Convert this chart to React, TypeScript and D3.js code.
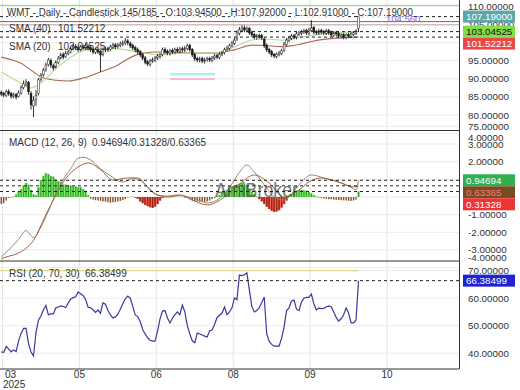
import React from "react";
import * as d3 from "d3";

// ---- price bars (one per trading day) ----
const opens = [
  86.2, 85.9, 85.4, 86.5, 85.9, 85.1, 85.6, 85.1, 86.0, 87.6,
  88.4, 89.0, 86.0, 82.5, 84.3, 86.0, 89.9, 91.1, 92.6, 93.9,
  95.0, 93.6, 93.2, 94.5, 95.8, 96.7, 96.1, 97.0, 97.5, 98.4,
  99.0, 98.6, 98.1, 98.9, 98.4, 99.0, 98.6, 98.1, 97.3, 98.1,
  97.5, 96.8, 98.0, 98.3, 98.1, 98.7, 99.4, 98.9, 99.2, 99.5,
  99.9, 100.5, 99.8, 99.2, 98.6, 98.1, 97.5, 96.7, 95.8, 94.7,
  94.0, 95.0, 95.1, 95.8, 96.2, 96.7, 98.1, 97.5, 97.0, 97.8,
  97.3, 98.1, 97.6, 98.3, 97.9, 98.4, 99.2, 98.1, 96.7, 95.6,
  95.1, 95.6, 94.8, 95.3, 95.6, 95.1, 95.8, 96.4, 95.9, 96.9,
  97.2, 98.1, 98.4, 99.2, 99.8, 101.0, 102.6, 103.4, 104.1, 103.4,
  103.9, 102.8, 102.2, 101.4, 101.9, 101.9, 101.0, 99.3, 98.1, 97.5,
  96.7, 96.2, 96.7, 97.0, 97.9, 99.5, 100.6, 101.2, 101.9, 101.4,
  102.3, 102.6, 103.0, 103.3, 102.6, 103.4, 104.2, 103.0, 102.6, 103.3,
  103.0, 102.6, 103.3, 102.8, 102.0, 102.8, 102.5, 101.7, 102.2, 101.4,
  102.2, 101.7, 102.3, 102.6, 103.945,
];
const highs = [
  86.8, 86.4, 87.0, 87.1, 86.4, 86.2, 86.1, 86.8, 88.2, 89.5,
  89.9, 89.4, 86.6, 85.2, 86.9, 90.2, 91.6, 93.0, 94.5, 95.8,
  95.6, 94.2, 95.1, 96.3, 97.2, 97.3, 97.7, 98.0, 99.1, 99.7,
  99.6, 99.2, 99.4, 99.5, 99.8, 99.5, 99.1, 98.6, 98.6, 98.7,
  98.0, 98.6, 98.9, 98.9, 99.4, 99.9, 99.9, 99.9, 100.3, 100.6,
  101.3, 101.0, 100.3, 99.7, 99.1, 98.6, 98.0, 97.2, 96.3, 95.2,
  95.5, 95.9, 96.3, 96.9, 97.2, 98.6, 98.7, 98.1, 98.3, 98.4,
  98.6, 98.7, 98.8, 98.9, 99.1, 99.7, 99.7, 98.5, 97.2, 96.1,
  96.1, 96.1, 95.8, 96.1, 96.1, 96.3, 96.9, 96.9, 97.4, 97.7,
  98.6, 99.1, 99.7, 100.5, 101.4, 103.4, 104.3, 104.8, 104.7, 104.5,
  104.3, 103.3, 102.7, 102.4, 102.5, 102.4, 101.4, 99.8, 98.6, 98.0,
  97.2, 97.3, 97.7, 98.3, 100.2, 101.3, 101.9, 102.4, 102.4, 103.0,
  103.3, 103.5, 103.8, 103.8, 104.1, 106.2, 104.6, 103.5, 103.8, 103.8,
  103.5, 103.8, 103.8, 103.3, 103.2, 103.3, 102.9, 102.6, 102.7, 102.6,
  102.7, 102.9, 103.2, 103.7, 107.92,
];
const lows = [
  85.2, 84.9, 85.0, 85.3, 84.5, 84.6, 84.3, 84.8, 85.7, 87.1,
  87.9, 85.6, 81.5, 79.4, 82.5, 85.4, 89.2, 90.6, 92.0, 93.4,
  93.0, 92.3, 92.8, 94.0, 95.3, 95.4, 95.7, 96.5, 97.0, 97.9,
  97.9, 97.4, 97.6, 97.9, 97.9, 97.8, 97.4, 96.8, 96.8, 96.9,
  91.9, 96.2, 97.4, 97.4, 97.6, 98.2, 98.2, 98.4, 98.7, 99.0,
  99.3, 99.3, 98.5, 97.9, 97.3, 96.8, 96.0, 95.1, 94.0, 93.5,
  93.4, 94.4, 94.6, 95.2, 95.6, 96.2, 96.8, 96.5, 96.4, 96.8,
  96.8, 97.1, 97.1, 97.4, 97.4, 97.9, 97.5, 96.0, 94.9, 94.6,
  94.5, 94.3, 94.2, 94.7, 94.6, 94.6, 95.2, 95.4, 95.4, 96.3,
  96.7, 97.6, 97.9, 98.7, 99.3, 100.5, 102.0, 102.9, 102.9, 102.8,
  102.1, 101.5, 100.9, 100.8, 101.1, 100.7, 98.5, 97.4, 96.8, 96.0,
  95.7, 95.6, 96.2, 96.5, 97.4, 99.0, 100.1, 100.7, 100.9, 100.9,
  101.8, 102.0, 102.4, 102.1, 102.1, 102.9, 102.3, 102.1, 102.1, 102.3,
  102.1, 102.1, 102.1, 101.5, 101.5, 101.8, 101.2, 101.1, 100.9, 100.9,
  101.2, 101.2, 101.8, 102.1, 102.91,
];
const closes = [
  85.8, 85.5, 86.4, 85.8, 85.2, 85.5, 85.0, 86.1, 87.5, 88.6,
  89.1, 86.4, 82.8, 84.1, 85.5, 89.7, 91.0, 92.4, 93.8, 95.2,
  93.8, 93.0, 94.6, 95.7, 96.6, 96.0, 97.1, 97.4, 98.5, 99.1,
  98.5, 98.0, 98.8, 98.5, 99.1, 98.5, 98.0, 97.4, 98.0, 97.4,
  96.6, 98.0, 98.2, 98.0, 98.8, 99.3, 98.8, 99.3, 99.6, 99.9,
  100.4, 99.9, 99.1, 98.5, 98.0, 97.4, 96.6, 95.7, 94.6, 94.1,
  94.9, 95.2, 95.7, 96.3, 96.6, 98.0, 97.4, 97.1, 97.7, 97.4,
  98.0, 97.7, 98.2, 98.0, 98.5, 99.1, 98.0, 96.6, 95.5, 95.2,
  95.5, 94.9, 95.2, 95.5, 95.2, 95.7, 96.3, 96.0, 96.8, 97.1,
  98.0, 98.5, 99.1, 99.9, 100.7, 102.7, 103.5, 104.0, 103.5, 103.8,
  102.7, 102.1, 101.5, 101.8, 101.8, 101.3, 99.1, 98.0, 97.4, 96.6,
  96.3, 96.8, 97.1, 97.7, 99.6, 100.7, 101.3, 101.8, 101.5, 102.4,
  102.7, 102.9, 103.2, 102.7, 103.5, 104.0, 102.9, 102.7, 103.2, 102.9,
  102.7, 103.2, 102.7, 102.1, 102.7, 102.4, 101.8, 102.1, 101.5, 102.1,
  101.8, 102.4, 102.7, 103.2, 107.19,
];

// ---- moving averages, [bar, value] ----
const sma20: [number, number][] = [
  [0, 91.9], [4, 90.3], [8, 88.8], [12, 87.5], [15, 88.3], [18, 90.0], [22, 92.8],
  [26, 95.0], [30, 96.8], [35, 98.2], [40, 98.5], [45, 98.4], [50, 98.0], [57, 97.2],
  [64, 96.6], [70, 97.0], [77, 97.1], [86, 97.1], [94, 98.8], [101, 100.7], [106, 101.0],
  [113, 100.7], [120, 101.4], [127, 102.2], [134, 102.7], [140, 102.9], [144, 103.04525],
];
const sma40: [number, number][] = [
  [0, 96.0], [4, 95.3], [8, 94.3], [13, 91.9], [17, 90.2], [22, 89.6], [27, 89.4],
  [33, 90.2], [40, 91.9], [47, 93.8], [51, 95.5], [57, 97.1], [63, 97.4], [70, 97.4],
  [77, 97.1], [86, 97.1], [94, 98.0], [101, 99.3], [106, 99.2], [113, 98.9], [120, 99.5],
  [125, 100.3], [130, 100.9], [135, 101.2], [140, 101.4], [144, 101.52212],
];

// ---- MACD (12, 26, 9) ----
const macdLine: [number, number][] = [
  [0, -3.4], [3, -3.0], [7, -2.4], [10, -1.9], [13, -2.3], [16, -1.7], [19, -0.8],
  [22, 0.2], [25, 1.0], [28, 1.6], [31, 2.2], [33, 2.25], [36, 2.1], [40, 1.6],
  [44, 1.2], [49, 0.85], [53, 1.05], [56, 0.95], [60, 0.4], [63, 0.1], [67, 0.05],
  [70, 0.11], [72, 0.1], [77, -0.06], [80, -0.2], [83, -0.34], [87, -0.17], [90, 0.2],
  [93, 0.75], [96, 1.4], [99, 1.81], [102, 1.42], [107, 0.5], [110, 0], [114, -0.17],
  [118, 0.35], [121, 0.85], [125, 1.25], [130, 1.08], [137, 0.79], [141, 0.55],
  [143, 0.4], [144, 0.94694],
];
const signalLine: [number, number][] = [
  [0, -3.5], [2, -3.4], [8, -3.1], [13, -2.45], [18, -1.0], [22, 0.1], [26, 1.05],
  [30, 1.6], [35, 1.93], [40, 1.55], [45, 0.96], [51, 1.08], [55, 1.08], [59, 0.57],
  [63, 0.11], [68, 0], [72, 0.11], [77, -0.17], [83, -0.45], [90, 0], [97, 0.85],
  [102, 1.25], [108, 0.79], [114, 0], [120, 0.4], [124, 0.85], [129, 1.08], [136, 0.85],
  [142, 0.57], [144, 0.63365],
];
const histValues = [
  -0.4, -0.35, -0.2, -0.05, -0.02, 0.02, 0.15, 0.3, 0.45, 0.65,
  0.8, 0.7, 0.4, 0.15, 0.1, 0.55, 0.95, 1.2, 1.35, 1.3,
  1.2, 1.15, 1.0, 0.9, 0.85, 0.7, 0.7, 0.65, 0.65, 0.6,
  0.6, 0.55, 0.55, 0.45, 0.35, 0.1, -0.1, -0.15, -0.18, -0.2,
  -0.22, -0.25, -0.27, -0.3, -0.33, -0.3, -0.28, -0.25, -0.22, -0.18,
  -0.12, -0.03, 0.02, 0.03, -0.03, -0.1, -0.25, -0.35, -0.45, -0.52,
  -0.58, -0.62, -0.55, -0.4, -0.2, -0.05, 0.02, 0.04, 0.05, 0.06,
  0.06, 0.05, 0.03, 0.02, -0.02, -0.05, -0.12, -0.2, -0.22, -0.25,
  -0.27, -0.28, -0.28, -0.25, -0.2, -0.12, -0.05, 0.05, 0.12, 0.22,
  0.3, 0.4, 0.48, 0.55, 0.62, 0.7, 0.76, 0.8, 0.75, 0.6,
  0.45, 0.3, 0.15, 0.02, -0.12, -0.25, -0.4, -0.55, -0.68, -0.78,
  -0.85, -0.82, -0.75, -0.6, -0.4, -0.2, 0.05, 0.18, 0.28, 0.35,
  0.4, 0.4, 0.38, 0.35, 0.28, 0.2, 0.1, 0.03, -0.03, -0.06,
  -0.08, -0.1, -0.12, -0.13, -0.15, -0.16, -0.17, -0.18, -0.19, -0.2,
  -0.21, -0.22, -0.2, -0.15, 0.31328,
];

// ---- RSI (20) ----
const rsiValues = [
  40.5, 40.3, 42.5, 41.5, 40.5, 41.2, 40.6, 44.5, 47.2, 49.0,
  49.0, 43.5, 40.4, 39.0, 47.5, 52.0, 53.5, 55.8, 57.3, 54.0,
  54.3, 54.3, 56.5, 56.8, 57.2, 57.0, 56.6, 58.3, 59.7, 60.2,
  60.5, 62.3, 61.6, 61.0, 59.5, 56.7, 56.5, 55.8, 54.8, 55.7,
  54.5, 58.3, 57.8, 55.5, 53.9, 52.8, 53.2, 54.2, 56.0, 58.0,
  59.8, 60.8, 60.0, 57.0, 53.9, 53.3, 51.5, 48.6, 47.0, 45.6,
  44.7, 44.4, 44.4, 48.0, 52.5, 55.3, 55.5, 52.8, 51.0, 52.8,
  54.0, 55.0, 54.0, 57.5, 55.0, 50.0, 47.0, 44.5, 43.8, 47.3,
  47.0, 46.6, 46.2, 45.9, 48.2, 48.4, 50.5, 53.0, 53.8, 54.6,
  56.8, 54.0, 55.0, 56.5, 60.1, 59.5, 68.4, 68.2, 68.5, 69.2,
  63.0, 57.0, 55.0, 55.5, 56.6, 58.4, 60.4, 47.0, 44.3, 43.2,
  42.6, 42.6, 42.6, 45.5, 49.5, 55.5, 56.5, 59.0, 59.3, 56.0,
  55.5, 58.6, 60.0, 60.3, 60.3, 61.5, 58.0, 55.7, 56.4, 56.2,
  56.3, 56.9, 57.1, 56.9, 55.0, 53.0, 51.7, 52.5, 54.0, 56.4,
  54.6, 51.0, 51.0, 52.1, 66.38499,
];

// ---- axes ----
// ticks hidden behind the value boxes (100, 1, 0) are left out
const priceTicks = [110, 105, 95, 90, 85, 80, 75];
const priceGrid = [110, 105, 100, 95, 90, 85, 80, 75];
const macdTicks = [4, 3, 2, -1, -2, -3, -4];
const macdGrid = [4, 3, 2, 1, 0, -1, -2, -3, -4];
const rsiTicks = [70, 60, 50, 40];
const monthSlots = [1, 32, 63, 94, 125, 156];
const monthLabels = ["03", "05", "06", "08", "09", "10"];
const TOTAL_SLOTS = 185;

const FONT = "'Liberation Sans', Arial, sans-serif";
const PLOT_R = 459;

function clamp(v: number, lo: number, hi: number) {
  return Math.max(lo, Math.min(hi, v));
}

export default function App() {
  const x = d3.scaleLinear().domain([0, TOTAL_SLOTS]).range([0, PLOT_R]);
  const slotW = x(1) - x(0);
  const bx = (i: number) => x(i + 0.5);

  const yP = d3.scaleLinear().domain([75.86, 111.77]).range([130, 0]);
  const yM = d3.scaleLinear().domain([-3.626, 3.796]).range([261, 130]);
  const yR = d3.scaleLinear().domain([34.25, 73.53]).range([369, 261]);

  const pLine = d3.line<[number, number]>().x((d) => bx(d[0])).y((d) => yP(d[1])).curve(d3.curveMonotoneX);
  const mLine = d3.line<[number, number]>().x((d) => bx(d[0])).y((d) => yM(d[1])).curve(d3.curveMonotoneX);
  const rLine = d3.line<number>().x((_, i) => bx(i)).y((d) => yR(d));

  // histogram colouring: deep negative runs red, shallow ones brown
  const histColor: string[] = [];
  let i0 = 0;
  while (i0 < histValues.length) {
    const neg = histValues[i0] < 0;
    let j = i0;
    while (j < histValues.length && (histValues[j] < 0) === neg) j++;
    const run = histValues.slice(i0, j);
    let c: string;
    if (neg) c = (d3.min(run) as number) < -0.5 ? "red" : "brown";
    else c = (d3.max(run) as number) < 0.1 ? "olive" : "green";
    for (let k = i0; k < j; k++) histColor.push(c);
    i0 = j;
  }

  const rightBox = (y: number, text: string, bg: string, fg: string, key: string) => (
    <g key={key}>
      <rect x={463} y={y - 6} width={52} height={12} fill={bg} />
      <text x={466} y={y + 3.5} fontSize={9.8} fill={fg} fontFamily={FONT}>{text}</text>
    </g>
  );

  const dashed = (y: number, key: string) => (
    <line key={key} x1={0} x2={PLOT_R} y1={y} y2={y} stroke="#222" strokeDasharray="3,3" strokeWidth={1} />
  );

  const txt = { fontFamily: FONT, fontSize: 10, fill: "#333" } as const;

  return (
    <div style={{ position: "fixed", left: 0, top: 0 }}>
      <svg width={520} height={390} style={{ display: "block", background: "#fff" }}>
        {/* grid */}
        {monthSlots.map((s) => (
          <line key={"vg" + s} x1={x(s)} x2={x(s)} y1={0} y2={369} stroke="#e4e4e4" />
        ))}
        {priceGrid.map((t) => (
          <line key={"pg" + t} x1={0} x2={PLOT_R} y1={yP(t)} y2={yP(t)} stroke="#ececec" />
        ))}
        {macdGrid.map((t) => (
          <line key={"mg" + t} x1={0} x2={PLOT_R} y1={yM(t)} y2={yM(t)} stroke="#ececec" />
        ))}
        {rsiTicks.map((t) => (
          <line key={"rg" + t} x1={0} x2={PLOT_R} y1={yR(t)} y2={yR(t)} stroke="#ececec" />
        ))}

        {/* ===== price panel ===== */}
        <line x1={0} x2={PLOT_R} y1={yP(110.3)} y2={yP(110.3)} stroke="#9ade8a" strokeWidth={1.2} />
        <line x1={0} x2={PLOT_R} y1={yP(105.8)} y2={yP(105.8)} stroke="#9a5a4a" strokeWidth={1} />
        <line x1={0} x2={PLOT_R} y1={yP(104.9)} y2={yP(104.9)} stroke="#b9a8a0" strokeWidth={1} />
        <rect x={170} y={73} width={45} height={2.5} fill="#a8f4f4" />
        <rect x={170} y={78} width={45} height={2} fill="#f8b8d8" />

        <path d={pLine(sma40) || ""} fill="none" stroke="#a86a58" strokeWidth={1.1} />
        <path d={pLine(sma20) || ""} fill="none" stroke="#b4dc94" strokeWidth={1.1} />

        {closes.map((c, i) => {
          const o = opens[i];
          const up = c >= o;
          const top = yP(Math.max(o, c));
          const h = Math.max(0.8, Math.abs(yP(o) - yP(c)));
          return (
            <g key={"k" + i}>
              <line x1={bx(i)} x2={bx(i)} y1={yP(highs[i])} y2={yP(lows[i])} stroke="#1a1a1a" strokeWidth={0.9} />
              <rect x={bx(i) - 0.9} y={top} width={1.8} height={h} fill={up ? "#fff" : "#1a1a1a"} stroke="#1a1a1a" strokeWidth={0.5} />
            </g>
          );
        })}

        {dashed(yP(107.19), "d1")}
        {dashed(yP(103.04525), "d2")}
        {dashed(yP(101.52212), "d3")}

        <rect x={9.5} y={8.5} width={7} height={8} fill="none" stroke="#4a6ad0" strokeWidth={1} />
        <text x={7} y={16} {...txt} stroke="#fff" strokeWidth={2} paintOrder="stroke" textLength={406} lengthAdjust="spacingAndGlyphs">
          WMT - Daily - Candlestick   145/185 - O:103.94500 - H:107.92000 - L:102.91000 - C:107.19000
        </text>
        <text x={386} y={22} fontFamily={FONT} fontSize={9.5} fill="#7a6ad8">104.560</text>
        <text x={9} y={32} {...txt}>SMA (40)</text>
        <text x={58} y={32} {...txt}>101.52212</text>
        <text x={9} y={50} {...txt}>SMA (20)</text>
        <text x={58} y={50} {...txt}>103.04525</text>

        <line x1={0} x2={PLOT_R} y1={130.5} y2={130.5} stroke="#333" />

        {/* ===== MACD panel ===== */}
        {histValues.map((v, i) => {
          const y0 = yM(0);
          const y1 = yM(v);
          const top = Math.min(y0, y1);
          const h = Math.max(0.6, Math.abs(y1 - y0));
          const c = histColor[i];
          if (c === "green")
            return (
              <g key={"h" + i}>
                <rect x={bx(i) - slotW / 2} y={top} width={slotW} height={h} fill="#66e04c" />
                <rect x={bx(i) - 0.45} y={top} width={0.9} height={h} fill="#2a9a2a" />
              </g>
            );
          if (c === "red")
            return (
              <g key={"h" + i}>
                <rect x={bx(i) - slotW / 2} y={top} width={slotW} height={h} fill="#e8362a" />
                <rect x={bx(i) - 0.45} y={top} width={0.9} height={h} fill="#7a2a12" />
              </g>
            );
          return (
            <rect key={"h" + i} x={bx(i) - 0.7} y={top} width={1.4} height={h} fill={c === "olive" ? "#a8a844" : "#8b4a1f"} />
          );
        })}
        <path d={mLine(macdLine) || ""} fill="none" stroke="#8c8c7c" strokeWidth={1} />
        <path d={mLine(signalLine) || ""} fill="none" stroke="#a8623c" strokeWidth={1} />

        <text x={215} y={197} fontFamily={FONT} fontSize={20} fill="#4a4a4a" opacity={0.75} textLength={83} lengthAdjust="spacingAndGlyphs">
          AmiBroker
        </text>

        {dashed(yM(0.94694), "m1")}
        {dashed(yM(0.63365), "m2")}
        {dashed(yM(0.31328), "m3")}

        <text x={9} y={146} {...txt}>MACD (12, 26, 9)</text>
        <text x={92} y={146} {...txt}>0.94694/0.31328/0.63365</text>

        <line x1={0} x2={PLOT_R} y1={261} y2={261} stroke="#333" />

        {/* ===== RSI panel ===== */}
        <line x1={0} x2={bx(144)} y1={yR(70)} y2={yR(70)} stroke="#e2dc86" strokeWidth={1.3} />
        <path d={rLine(rsiValues) || ""} fill="none" stroke="#3a3a9e" strokeWidth={1.2} />
        {dashed(yR(66.38499), "r1")}
        <text x={9} y={277} {...txt}>RSI (20, 70, 30)</text>
        <text x={85} y={277} {...txt}>66.38499</text>

        <line x1={0} x2={PLOT_R} y1={369} y2={369} stroke="#333" />
        <line x1={PLOT_R + 0.5} x2={PLOT_R + 0.5} y1={0} y2={369} stroke="#333" />

        {/* ===== right axis ===== */}
        {priceTicks.map((t) => (
          <text key={"pt" + t} x={468} y={clamp(yP(t), 4, 126) + 3.5} {...txt} fontSize={9.8}>
            {t.toFixed(5)}
          </text>
        ))}
        {macdTicks.map((t) => (
          <text key={"mt" + t} x={468} y={clamp(yM(t), 137, 257) + 3.5} {...txt} fontSize={9.8}>
            {t.toFixed(5)}
          </text>
        ))}
        {rsiTicks.map((t) => (
          <text key={"rt" + t} x={468} y={yR(t) + 3.5} {...txt} fontSize={9.8}>
            {t.toFixed(5)}
          </text>
        ))}

        {rightBox(yP(107.19), "107.19000", "#5aa8aa", "#fff", "b1")}
        {rightBox(yP(103.04525), "103.04525", "#86dc48", "#111", "b2")}
        {rightBox(yP(103.04525) + 12, "101.52212", "#e84848", "#fff", "b3")}

        {rightBox(yM(0.94694), "0.94694", "#2fae52", "#fff", "b4")}
        {rightBox(yM(0.94694) + 12, "0.63365", "#7a4a22", "#ff7a7a", "b5")}
        {rightBox(yM(0.94694) + 24, "0.31328", "#ee3434", "#fff", "b6")}

        {rightBox(yR(66.38499), "66.38499", "#1f22d6", "#fff", "b7")}

        {/* ===== x axis ===== */}
        {monthSlots.map((s, k) =>
          k === 0 ? (
            <text key={"xl" + s} x={5} y={378} {...txt}>{monthLabels[k]}</text>
          ) : (
            <text key={"xl" + s} x={x(s)} y={378} textAnchor="middle" {...txt}>{monthLabels[k]}</text>
          )
        )}
        <text x={3} y={387.5} {...txt}>2025</text>
      </svg>
    </div>
  );
}
